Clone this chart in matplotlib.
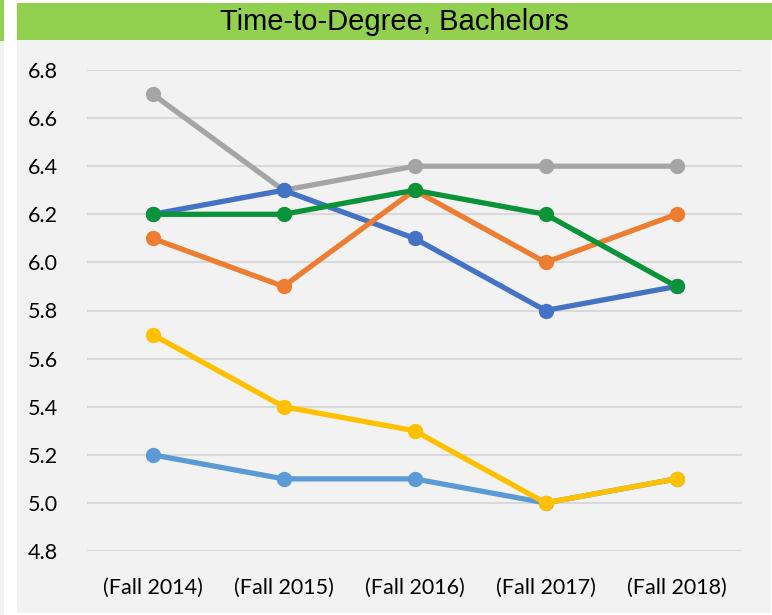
import matplotlib
matplotlib.use("Agg")
import matplotlib.pyplot as plt
from matplotlib.patches import Rectangle

categories = ["(Fall 2014)", "(Fall 2015)", "(Fall 2016)", "(Fall 2017)", "(Fall 2018)"]
series_lightblue = [5.2, 5.1, 5.1, 5.0, 5.1]
series_gray = [6.7, 6.3, 6.4, 6.4, 6.4]
series_blue = [6.2, 6.3, 6.1, 5.8, 5.9]
series_orange = [6.1, 5.9, 6.3, 6.0, 6.2]
series_yellow = [5.7, 5.4, 5.3, 5.0, 5.1]
series_green = [6.2, 6.2, 6.3, 6.2, 5.9]
yticks = [4.8, 5.0, 5.2, 5.4, 5.6, 5.8, 6.0, 6.2, 6.4, 6.6, 6.8]
title = "Time-to-Degree, Bachelors"

W, H = 772, 615
fig = plt.figure(figsize=(W / 100, H / 100), dpi=100)
fig.patch.set_facecolor("white")

def rect(x0, y0, x1, y1, color):
    fig.patches.append(Rectangle((x0 / W, 1 - y1 / H), (x1 - x0) / W, (y1 - y0) / H,
                                 transform=fig.transFigure, facecolor=color,
                                 edgecolor="none", zorder=-10))

rect(0, 0, 4, 41, "#92D050")
rect(0, 41, 4, 615, "#F2F2F2")
rect(17, 40, 771, 613, "#F2F2F2")
rect(17, 3, 772, 40, "#92D050")

fig.text((17 + 772) / 2 / W, 1 - 22 / H, title, ha="center", va="center",
         fontsize=21, family="Liberation Sans", color="black")

ax = fig.add_axes([87 / W, 1 - 551 / H, (742 - 87) / W, (551 - 70) / H])
ax.set_facecolor("none")
x = list(range(len(categories)))

series = [
    (series_lightblue, "#5B9BD5"),
    (series_gray, "#A5A5A5"),
    (series_blue, "#4472C4"),
    (series_orange, "#ED7D31"),
    (series_yellow, "#FFC000"),
    (series_green, "#0A9339"),
]
for vals, c in series:
    ax.plot(x, vals, color=c, lw=3.8, marker="o", markersize=10,
            solid_capstyle="round", zorder=3)

ax.set_xlim(-0.5, len(categories) - 0.5)
ax.set_ylim(4.8, 6.8)
ax.set_yticks(yticks)
ax.set_yticklabels([f"{v:.1f}" for v in yticks])
ax.set_xticks(x)
ax.set_xticklabels(categories)
ax.grid(axis="y", color="#D9D9D9", lw=1.5, zorder=0)
ax.set_axisbelow(True)
for s in ax.spines.values():
    s.set_visible(False)
ax.tick_params(axis="both", length=0, labelsize=15.5, colors="black")
ax.tick_params(axis="y", pad=21)
ax.tick_params(axis="x", pad=19)
for lab in ax.get_xticklabels() + ax.get_yticklabels():
    lab.set_family("Lato")

fig.savefig("out.png", dpi=100)
